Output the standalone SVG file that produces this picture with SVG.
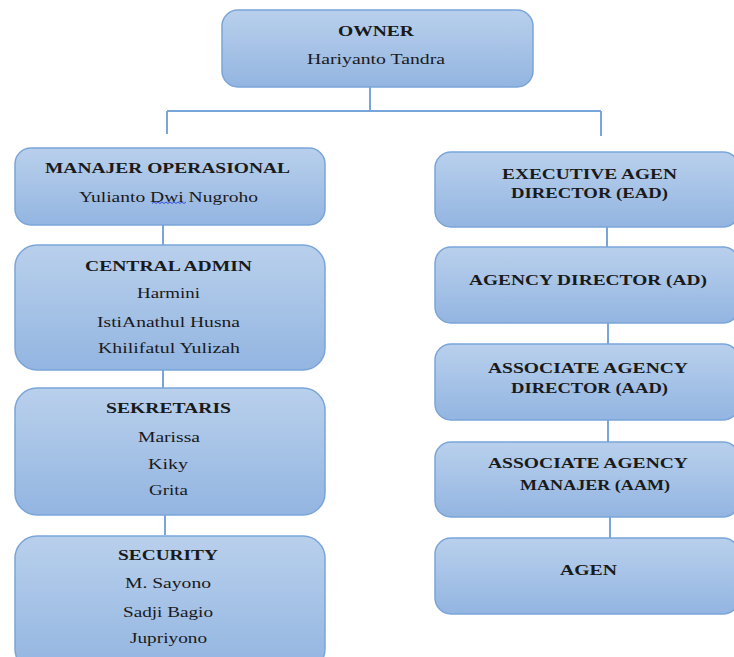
<svg xmlns="http://www.w3.org/2000/svg" width="734" height="657" viewBox="0 0 734 657">
<defs>
<linearGradient id="g" x1="0" y1="0" x2="0" y2="1">
<stop offset="0" stop-color="#b9d0ec"/>
<stop offset="1" stop-color="#93b5e1"/>
</linearGradient>
<style>
.box{fill:url(#g);stroke:#7aa5d9;stroke-width:1.5}
.c{fill:none;stroke:#79a6da;stroke-width:2}
text{font-family:'Liberation Serif','DejaVu Serif',serif;fill:#1a1a1a}
.b{font-weight:bold;font-size:15.5px}
.r{font-size:15.5px}
</style>
</defs>
<rect width="734" height="657" fill="#ffffff"/>
<g id="connectors">
<path class="c" d="M370 87V111M167 111H601M167 111V134M601 111V136"/>
<path class="c" d="M163 225V245M163 370V388M165 512V535"/>
<path class="c" d="M607 227V247M608 323V344M608 420V442M610 517V538"/>
</g>
<g id="owner" font-family="Liberation Serif, DejaVu Serif, serif">
<rect class="box" x="222" y="10" width="311" height="77" rx="16"/>
<text class="b" x="338" y="36" textLength="76" lengthAdjust="spacingAndGlyphs">OWNER</text>
<text class="r" x="307" y="64" textLength="138" lengthAdjust="spacingAndGlyphs">Hariyanto Tandra</text>
</g>
<g id="manajer">
<rect class="box" x="15" y="148" width="310" height="77" rx="16"/>
<text class="b" x="45" y="173" textLength="245" lengthAdjust="spacingAndGlyphs">MANAJER OPERASIONAL</text>
<text class="r" x="79" y="202" textLength="179" lengthAdjust="spacingAndGlyphs">Yulianto Dwi Nugroho</text>
<path d="M152 203.5l2-1.5 2 1.5 2-1.5 2 1.5 2-1.5 2 1.5 2-1.5 2 1.5 2-1.5 2 1.5 2-1.5 2 1.5 2-1.5 2 1.5 2-1.5 2 1.5 2-1.5" fill="none" stroke="#2b3fe0" stroke-width="0.9"/>
</g>
<g id="central-admin">
<rect class="box" x="15" y="245" width="310" height="125" rx="22"/>
<text class="b" x="85" y="271" textLength="167" lengthAdjust="spacingAndGlyphs">CENTRAL ADMIN</text>
<text class="r" x="137" y="298" textLength="63" lengthAdjust="spacingAndGlyphs">Harmini</text>
<text class="r" x="97" y="327" textLength="143" lengthAdjust="spacingAndGlyphs">IstiAnathul Husna</text>
<text class="r" x="98" y="353" textLength="142" lengthAdjust="spacingAndGlyphs">Khilifatul Yulizah</text>
</g>
<g id="sekretaris">
<rect class="box" x="15" y="388" width="310" height="127" rx="22"/>
<text class="b" x="106" y="413" textLength="125" lengthAdjust="spacingAndGlyphs">SEKRETARIS</text>
<text class="r" x="138" y="442" textLength="62" lengthAdjust="spacingAndGlyphs">Marissa</text>
<text class="r" x="148" y="469" textLength="40" lengthAdjust="spacingAndGlyphs">Kiky</text>
<text class="r" x="149" y="495" textLength="39" lengthAdjust="spacingAndGlyphs">Grita</text>
</g>
<g id="security">
<rect class="box" x="15" y="536" width="310" height="135" rx="22"/>
<text class="b" x="118" y="560" textLength="100" lengthAdjust="spacingAndGlyphs">SECURITY</text>
<text class="r" x="125" y="588" textLength="86" lengthAdjust="spacingAndGlyphs">M. Sayono</text>
<text class="r" x="123" y="617" textLength="90" lengthAdjust="spacingAndGlyphs">Sadji Bagio</text>
<text class="r" x="130" y="643" textLength="77" lengthAdjust="spacingAndGlyphs">Jupriyono</text>
</g>
<g id="ead">
<rect class="box" x="435" y="152" width="304" height="75" rx="16"/>
<text class="b" x="502" y="179" textLength="175" lengthAdjust="spacingAndGlyphs">EXECUTIVE AGEN</text>
<text class="b" x="511" y="198" textLength="157" lengthAdjust="spacingAndGlyphs">DIRECTOR (EAD)</text>
</g>
<g id="ad">
<rect class="box" x="435" y="247" width="304" height="76" rx="16"/>
<text class="b" x="469" y="285" textLength="238" lengthAdjust="spacingAndGlyphs">AGENCY DIRECTOR (AD)</text>
</g>
<g id="aad">
<rect class="box" x="435" y="344" width="304" height="76" rx="16"/>
<text class="b" x="488" y="373" textLength="200" lengthAdjust="spacingAndGlyphs">ASSOCIATE AGENCY</text>
<text class="b" x="511" y="393" textLength="157" lengthAdjust="spacingAndGlyphs">DIRECTOR (AAD)</text>
</g>
<g id="aam">
<rect class="box" x="435" y="442" width="304" height="75" rx="16"/>
<text class="b" x="488" y="468" textLength="200" lengthAdjust="spacingAndGlyphs">ASSOCIATE AGENCY</text>
<text class="b" x="520" y="490" textLength="150" lengthAdjust="spacingAndGlyphs">MANAJER (AAM)</text>
</g>
<g id="agen">
<rect class="box" x="435" y="538" width="304" height="76" rx="16"/>
<text class="b" x="560" y="575" textLength="57" lengthAdjust="spacingAndGlyphs">AGEN</text>
</g>
</svg>
